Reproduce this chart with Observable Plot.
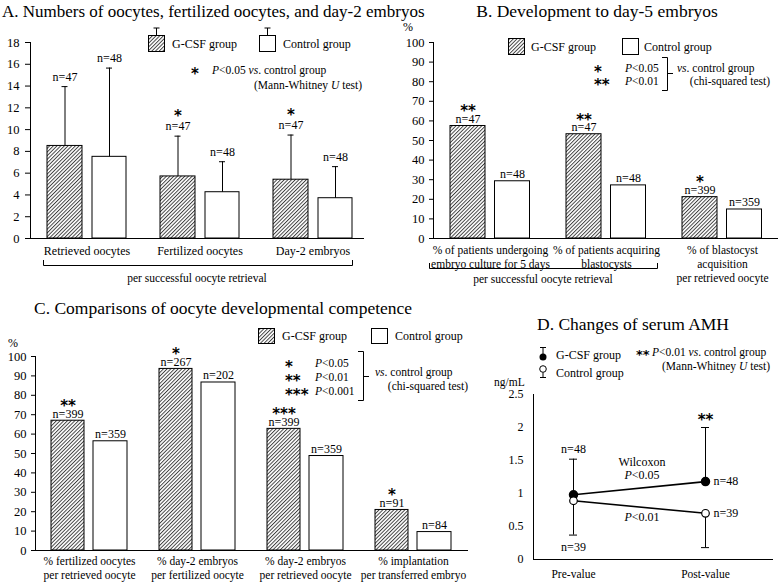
<!DOCTYPE html>
<html><head><meta charset="utf-8">
<script src="https://cdn.jsdelivr.net/npm/d3@7"></script>
<script src="https://cdn.jsdelivr.net/npm/@observablehq/plot@0.6"></script>
<style>
body{margin:0;background:#fff;}
#wrap{position:relative;width:778px;height:582px;overflow:hidden;background:#fff;}
#wrap svg{position:absolute;}
</style></head><body><div id="wrap"></div>
<script>
// ---------- data ----------
const catsA = ["Retrieved oocytes", "Fertilized oocytes", "Day-2 embryos"];
const gcsfA = [8.5, 5.7, 5.4];
const gcsfA_sd = [5.45, 3.7, 4.1];
const ctrlA = [7.5, 4.25, 3.7];
const ctrlA_sd = [8.15, 2.8, 2.9];
const gcsfA_n = [47, 47, 47];
const ctrlA_n = [48, 48, 48];
const sigA = ["", "*", "*"];
const ticksA = [0, 2, 4, 6, 8, 10, 12, 14, 16, 18];

const catsB = ["% of patients undergoing\nembryo culture for 5 days", "% of patients acquiring\nblastocysts", "% of blastocyst\nacquisition\nper retrieved oocyte"];
const gcsfB = [57.4, 53.2, 21.1];
const ctrlB = [29.2, 27.1, 14.8];
const gcsfB_n = [47, 47, 399];
const ctrlB_n = [48, 48, 359];
const sigB = ["**", "**", "*"];
const ticksPct = [0, 10, 20, 30, 40, 50, 60, 70, 80, 90, 100];

const catsC = ["% fertilized oocytes\nper retrieved oocyte", "% day-2 embryos\nper fertilized oocyte", "% day-2 embryos\nper retrieved oocyte", "% implantation\nper transferred embryo"];
const gcsfC = [66.9, 93.6, 62.7, 20.9];
const ctrlC = [56.3, 86.6, 48.7, 9.5];
const gcsfC_n = [399, 267, 399, 91];
const ctrlC_n = [359, 202, 359, 84];
const sigC = ["**", "*", "***", "*"];

const timesD = ["Pre-value", "Post-value"];
const gcsfD = [0.98, 1.18];
const gcsfD_sd = [0.54, 0.82];
const ctrlD = [0.89, 0.70];
const ctrlD_sd = [0.52, 0.52];
const gcsfD_n = [48, 48];
const ctrlD_n = [39, 39];
const sigD = ["", "**"];
const ticksD = [0, 0.5, 1, 1.5, 2, 2.5];

// ---------- helpers ----------
const FONT = '"Liberation Serif", "Times New Roman", serif';
const STARFONT = '"DejaVu Sans", sans-serif';
const wrap = document.getElementById("wrap");

function place(svg, left, top) {
  svg.style.position = "absolute";
  svg.style.left = left + "px";
  svg.style.top = top + "px";
  svg.style.maxWidth = "none";
  wrap.appendChild(svg);
}

function barPanel(cfg) {
  const {cats, g, c, gSd, cSd, gN, cN, sig, left, top, width, height, m, xRange, yMax, yTicks,
         gOff, cOff, tickSize, tickPadding, catSize, catPad, nDy, sigDy} = cfg;
  const rows = cats.map((cat, i) => ({cat, g: g[i], c: c[i], gSd: gSd ? gSd[i] : 0, cSd: cSd ? cSd[i] : 0,
                                       gN: gN[i], cN: cN[i], sig: sig[i]}));
  const bw = (xRange[1] - xRange[0]) / cats.length;
  const gMid = (gOff[0] + gOff[1]) / 2, cMid = (cOff[0] + cOff[1]) / 2;
  const marks = [
    Plot.barY(rows, {x: "cat", y: "g", fill: "url(#hatch)", stroke: "black", strokeWidth: 1,
                     insetLeft: bw / 2 + gOff[0], insetRight: bw / 2 - gOff[1]}),
    Plot.barY(rows, {x: "cat", y: "c", fill: "white", stroke: "black", strokeWidth: 1,
                     insetLeft: bw / 2 + cOff[0], insetRight: bw / 2 - cOff[1]})
  ];
  if (gSd) {
    marks.push(
      Plot.ruleX(rows, {x: "cat", y1: "g", y2: d => d.g + d.gSd, dx: gMid}),
      Plot.tickY(rows, {x: "cat", y: d => d.g + d.gSd, insetLeft: bw / 2 + gMid - 3, insetRight: bw / 2 - gMid - 3}),
      Plot.ruleX(rows, {x: "cat", y1: "c", y2: d => d.c + d.cSd, dx: cMid}),
      Plot.tickY(rows, {x: "cat", y: d => d.c + d.cSd, insetLeft: bw / 2 + cMid - 3, insetRight: bw / 2 - cMid - 3})
    );
  }
  marks.push(
    Plot.text(rows, {x: "cat", y: d => d.g + d.gSd, text: d => "n=" + d.gN, dx: gMid, dy: nDy, fontSize: 12}),
    Plot.text(rows, {x: "cat", y: d => d.c + d.cSd, text: d => "n=" + d.cN, dx: cMid, dy: nDy, fontSize: 12}),
    Plot.text(rows.filter(d => d.sig), {x: "cat", y: d => d.g + d.gSd, text: "sig", dx: gMid, dy: sigDy,
                                        fontSize: 15, fontWeight: "bold", fontFamily: STARFONT}),
    Plot.frame({anchor: "left"}),
    Plot.frame({anchor: "bottom"}),
    Plot.axisY({ticks: yTicks, tickSize, tickPadding, label: null, fontSize: 12.5}),
    Plot.axisX({tickSize: 0, tickPadding: catPad, label: null, fontSize: catSize, lineHeight: 1.2})
  );
  const svg = Plot.plot({
    width, height, marginLeft: m[0], marginRight: m[1], marginTop: m[2], marginBottom: m[3],
    x: {type: "band", domain: cats, range: xRange, padding: 0},
    y: {domain: [0, yMax]},
    style: {fontFamily: FONT, fontSize: "12.5px", background: "transparent", color: "black", overflow: "visible"},
    marks
  });
  place(svg, left, top);
}

// ---------- overlay with pattern, titles, legends, annotations ----------
const ov = d3.select(wrap).append("svg")
  .attr("width", 778).attr("height", 582)
  .style("left", "0px").style("top", "0px")
  .style("font-family", FONT).style("white-space", "pre").style("z-index", 2);
const pat = ov.append("defs").append("pattern").attr("id", "hatch")
  .attr("patternUnits", "userSpaceOnUse").attr("width", 2.6).attr("height", 2.6)
  .attr("patternTransform", "rotate(45)");
pat.append("rect").attr("width", 2.6).attr("height", 2.6).attr("fill", "white");
pat.append("line").attr("x1", 0.5).attr("y1", -1).attr("x2", 0.5).attr("y2", 4)
  .attr("stroke", "#333").attr("stroke-width", 0.9);

function label(x, y, parts, {size = 12, anchor = "start", family} = {}) {
  const t = ov.append("text").attr("x", x).attr("y", y).attr("font-size", size)
    .attr("text-anchor", anchor).attr("dominant-baseline", "central").attr("fill", "black");
  if (family) t.attr("font-family", family);
  if (!Array.isArray(parts)) parts = [[parts]];
  for (const p of parts) {
    const s = t.append("tspan").text(p[0]);
    if (p[1] === "i") s.attr("font-style", "italic");
    if (p[1] === "b") s.attr("font-weight", "bold");
  }
  return t;
}
function star(x, y, s, anchor = "start") {
  return label(x, y + 4, [[s, "b"]], {size: 15, anchor, family: STARFONT});
}
function path(d) {
  ov.append("path").attr("d", d).attr("fill", "none").attr("stroke", "black").attr("stroke-width", 1);
}
function box(x, y, w, h, fill) {
  ov.append("rect").attr("x", x).attr("y", y).attr("width", w).attr("height", h)
    .attr("fill", fill).attr("stroke", "black").attr("stroke-width", 1);
}

// titles
label(2, 11, "A. Numbers of oocytes, fertilized oocytes, and day-2 embryos", {size: 17});
label(597, 11, "B. Development to day-5 embryos", {size: 17.5, anchor: "middle"});
label(34, 308, "C. Comparisons of oocyte developmental competence", {size: 17.5});
label(537, 324, "D. Changes of serum AMH", {size: 17.5});

// legend A
path("M156.5,35V28M153.5,28H159.5"); box(148.5, 35.5, 16, 16, "url(#hatch)");
label(172, 44, "G-CSF group");
path("M267.5,35V28M264.5,28H270.5"); box(259.5, 35.5, 16, 16, "white");
label(283, 44, "Control group");
star(195, 70, "*", "middle");
label(212, 70, [["P", "i"], ["<0.05  "], ["vs", "i"], [". control group"]], {size: 11.5});
label(362, 85, [["(Mann-Whitney "], ["U", "i"], [" test)"]], {size: 11.5, anchor: "end"});
path("M43.5,260V265.5H352.5V260");
label(197, 278, "per successful oocyte retrieval", {size: 11.5, anchor: "middle"});

// legend B
label(408, 27, "%", {size: 12, anchor: "middle"});
box(508.5, 38.5, 16, 16, "url(#hatch)");
label(531, 47, "G-CSF group");
box(622.5, 38.5, 16, 16, "white");
label(644, 47, "Control group");
star(594, 68, "*"); star(594, 81, "**");
label(625, 68, [["P", "i"], ["<0.05"]], {size: 11.5});
label(625, 81, [["P", "i"], ["<0.01"]], {size: 11.5});
path("M662,57.5H667.5V90.5H662M667.5,73.5H673");
label(677, 68, [["vs", "i"], [". control group"]], {size: 11.5});
label(770, 81, "(chi-squared test)", {size: 11.5, anchor: "end"});
path("M429.5,263V268.5H657.5V263");
label(543, 279, "per successful oocyte retrieval", {size: 11.5, anchor: "middle"});

// legend C
label(13, 343, "%", {size: 12, anchor: "middle"});
box(258.5, 328.5, 16, 15, "url(#hatch)");
label(282, 336, "G-CSF group");
box(371.5, 328.5, 16, 15, "white");
label(395, 336, "Control group");
star(285, 363, "*"); star(285, 377, "**"); star(285, 391, "***");
label(315, 363, [["P", "i"], ["<0.05"]], {size: 11.5});
label(315, 377, [["P", "i"], ["<0.01"]], {size: 11.5});
label(315, 391, [["P", "i"], ["<0.001"]], {size: 11.5});
path("M358,351.5H363.5V400.5H358M363.5,376.5H369");
label(375, 372, [["vs", "i"], [". control group"]], {size: 11.5});
label(468, 386, "(chi-squared test)", {size: 11.5, anchor: "end"});

// legend D
path("M540,347.5H546M543,347.5V356");
ov.append("circle").attr("cx", 543).attr("cy", 357).attr("r", 3.5).attr("fill", "black");
ov.append("circle").attr("cx", 543).attr("cy", 369).attr("r", 3.3).attr("fill", "white").attr("stroke", "black");
path("M543,372.5V377.5M540,377.5H546");
label(556, 355, "G-CSF group");
label(556, 373, "Control group");
label(636, 354, [["**", "b"]], {size: 13, family: STARFONT});
label(652, 352, [["P", "i"], ["<0.01  "], ["vs", "i"], [". control group"]], {size: 11.5});
label(770, 366, [["(Mann-Whitney "], ["U", "i"], [" test)"]], {size: 11.5, anchor: "end"});
label(494, 382, "ng/mL", {size: 11.5});
label(642, 462, "Wilcoxon", {size: 12, anchor: "middle"});
label(642, 475, [["P", "i"], ["<0.05"]], {size: 12, anchor: "middle"});
label(642, 517, [["P", "i"], ["<0.01"]], {size: 12, anchor: "middle"});

// ---------- panels A, B, C ----------
barPanel({cats: catsA, g: gcsfA, c: ctrlA, gSd: gcsfA_sd, cSd: ctrlA_sd, gN: gcsfA_n, cN: ctrlA_n, sig: sigA,
  left: 0, top: 0, width: 390, height: 300, m: [30, 27, 42, 62], xRange: [30, 369], yMax: 18, yTicks: ticksA,
  gOff: [-39.5, -4.5], cOff: [5.5, 39.5], tickSize: 5, tickPadding: 6, catSize: 12, catPad: 6, nDy: -9.5, sigDy: -20});

barPanel({cats: catsB, g: gcsfB, c: ctrlB, gN: gcsfB_n, cN: ctrlB_n, sig: sigB,
  left: 390, top: 0, width: 388, height: 300, m: [43, 1, 42, 62], xRange: [42, 390], yMax: 100, yTicks: ticksPct,
  gOff: [-40, -5], cOff: [4.5, 39.5], tickSize: 4, tickPadding: 5, catSize: 11.5, catPad: 6, nDy: -7, sigDy: -14.5});

barPanel({cats: catsC, g: gcsfC, c: ctrlC, gN: gcsfC_n, cN: ctrlC_n, sig: sigC,
  left: 0, top: 300, width: 480, height: 282, m: [35, 13, 56, 32], xRange: [35, 467], yMax: 100, yTicks: ticksPct,
  gOff: [-38, -5], cOff: [4, 38], tickSize: 4, tickPadding: 5, catSize: 11.5, catPad: 5, nDy: -7, sigDy: -14.5});

// ---------- panel D ----------
const rowsD = timesD.map((t, i) => ({time: t, gm: gcsfD[i], gsd: gcsfD_sd[i], cm: ctrlD[i], csd: ctrlD_sd[i],
                                      gn: gcsfD_n[i], cn: ctrlD_n[i], sig: sigD[i]}));
const pre = rowsD.slice(0, 1), post = rowsD.slice(1);
// narrow bands (8px) centred on the two time points so that error-bar caps can use tickY
const stepD = 132, capW = 8, padInD = 1 - capW / stepD;
const svgD = Plot.plot({
  width: 298, height: 197, marginLeft: 53, marginRight: 6, marginTop: 9, marginBottom: 23,
  x: {type: "band", domain: timesD, range: [23, 23 + stepD * (2 - padInD + 1)], paddingInner: padInD, paddingOuter: 0.5},
  y: {domain: [0, 2.5]},
  style: {fontFamily: FONT, fontSize: "12px", background: "transparent", color: "black", overflow: "visible"},
  marks: [
    Plot.frame({anchor: "left"}),
    Plot.frame({anchor: "bottom"}),
    Plot.axisY({ticks: ticksD, tickSize: 0, tickPadding: 10, tickFormat: d => String(d), label: null}),
    Plot.axisX({tickSize: 0, tickPadding: 10, label: null, fontSize: 11.5}),
    Plot.ruleX(rowsD, {x: "time", y1: "gm", y2: d => d.gm + d.gsd}),
    Plot.tickY(rowsD, {x: "time", y: d => d.gm + d.gsd}),
    Plot.ruleX(rowsD, {x: "time", y1: "cm", y2: d => d.cm - d.csd}),
    Plot.tickY(rowsD, {x: "time", y: d => d.cm - d.csd}),
    Plot.line(rowsD, {x: "time", y: "gm", strokeWidth: 1.6}),
    Plot.line(rowsD, {x: "time", y: "cm", strokeWidth: 1.6}),
    Plot.dot(rowsD, {x: "time", y: "gm", r: 4, fill: "black", stroke: "black"}),
    Plot.dot(rowsD, {x: "time", y: "cm", r: 3.8, fill: "white", stroke: "black", strokeWidth: 1.2}),
    Plot.text(pre, {x: "time", y: d => d.gm + d.gsd, text: d => "n=" + d.gn, dy: -10}),
    Plot.text(pre, {x: "time", y: d => d.cm - d.csd, text: d => "n=" + d.cn, dy: 12.5}),
    Plot.text(post, {x: "time", y: "gm", text: d => "n=" + d.gn, dx: 8, textAnchor: "start"}),
    Plot.text(post, {x: "time", y: "cm", text: d => "n=" + d.cn, dx: 8, textAnchor: "start"}),
    Plot.text(rowsD.filter(d => d.sig), {x: "time", y: d => d.gm + d.gsd, text: "sig", dy: -7,
                                         fontSize: 15, fontWeight: "bold", fontFamily: STARFONT})
  ]
});
place(svgD, 480, 385);
wrap.appendChild(ov.node());
</script>
</body></html>
